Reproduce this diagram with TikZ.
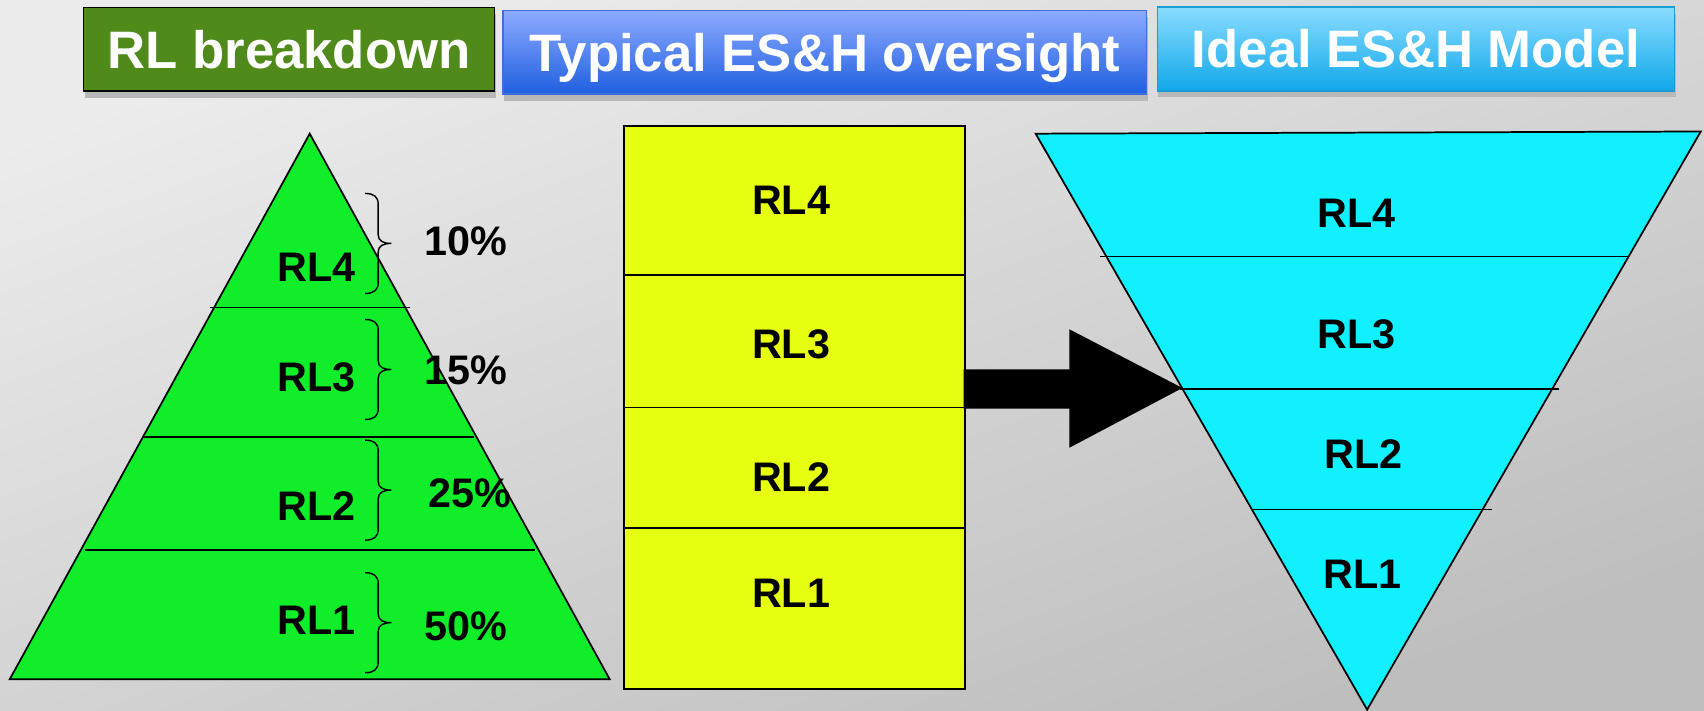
\documentclass[tikz,border=0pt]{standalone}
\usepackage{fontspec}
\setmainfont{Liberation Sans}
\usetikzlibrary{shadows,calc}

\definecolor{bgtop}{HTML}{ECECEC}
\definecolor{bgbot}{HTML}{BEBEBE}
\definecolor{hdrgreen}{HTML}{4F8A1A}
\definecolor{bluetop}{HTML}{8DABFF}
\definecolor{bluebot}{HTML}{1F5FE0}
\definecolor{blueedge}{HTML}{3A70D8}
\definecolor{cyantop}{HTML}{8ADCFF}
\definecolor{cyanbot}{HTML}{10A8EA}
\definecolor{cyanedge}{HTML}{1A9ED2}
\definecolor{pyrgreen}{HTML}{10EE2A}
\definecolor{boxyellow}{HTML}{E6FF10}
\definecolor{funcyan}{HTML}{10F0FF}

% right-pointing curly bracket: x position, top, bottom
\newcommand{\curlybracket}[3]{%
  \pgfmathsetmacro{\cbm}{(#2+#3)/2}%
  \draw[bracket] (#1,#2) .. controls (#1+8,#2) and (#1+12,#2+3) .. (#1+12,#2+10)
    -- (#1+12,\cbm-8) .. controls (#1+12,\cbm-2) and (#1+17,\cbm) .. (#1+24,\cbm)
    .. controls (#1+17,\cbm) and (#1+12,\cbm+2) .. (#1+12,\cbm+8)
    -- (#1+12,#3-10) .. controls (#1+12,#3-3) and (#1+8,#3) .. (#1,#3);}

\begin{document}
\begin{tikzpicture}[x=1pt,y=-1pt,
  hdr/.style={minimum height=77pt, inner sep=0pt, text=white,
    font=\fontsize{48.5}{58}\selectfont\bfseries,
    text height=35pt, text depth=0pt, line width=1.5pt,
    drop shadow={shadow xshift=1pt,shadow yshift=-6pt,fill=black!28,opacity=1}},
  lbl/.style={font=\fontsize{38}{46}\selectfont\bfseries, inner sep=0pt},
  edge/.style={line width=1.6pt},
  band/.style={line width=1.4pt},
  bracket/.style={line width=1.3pt}]

  % backdrop
  \useasboundingbox (0,0) rectangle (1568,654);
  \fill[top color=bgtop, bottom color=bgbot, shading angle=20] (0,0) rectangle (1568,654);

  % column headings
  \node[hdr, draw=black, fill=hdrgreen, minimum width=378pt] (h1) at (266,45.5) {RL breakdown};
  \node[hdr, draw=blueedge, top color=bluetop, bottom color=bluebot, minimum width=592pt] (h2) at (759,48) {Typical ES\&H oversight};
  \node[hdr, draw=cyanedge, top color=cyantop, bottom color=cyanbot, minimum width=476pt] (h3) at (1303,45) {Ideal ES\&H Model};

  % pyramid
  \filldraw[edge, fill=pyrgreen] (285,123) -- (561,625) -- (9,625) -- cycle;
  \draw[band] (193,283) -- (377,283);
  \draw[band] (132,402) -- (436,402);
  \draw[band] (78,506) -- (492,506);

  \node[lbl] (p4) at (291,246) {RL4};
  \node[lbl] (p3) at (291,347) {RL3};
  \node[lbl] (p2) at (291,466) {RL2};
  \node[lbl] (p1) at (291,571) {RL1};

  \curlybracket{336}{178}{270}
  \curlybracket{336}{294}{386}
  \curlybracket{336}{405}{497}
  \curlybracket{336}{527}{619}

  \node[lbl] (q4) at (429,222) {10\%};
  \node[lbl] (q3) at (429,341) {15\%};
  \node[lbl] (q2) at (432,454) {25\%};
  \node[lbl] (q1) at (429,576) {50\%};

  % uniform column
  \node[edge, draw, fill=boxyellow, minimum width=314pt, minimum height=518pt, inner sep=0pt] (yel) at (731,375) {};
  \draw[band] (574,253) -- (888,253);
  \draw[band] (574,375) -- (888,375);
  \draw[band] (574,486) -- (888,486);

  \node[lbl] (y4) at (728,184) {RL4};
  \node[lbl] (y3) at (728,317) {RL3};
  \node[lbl] (y2) at (728,439) {RL2};
  \node[lbl] (y1) at (728,546) {RL1};

  % inverted pyramid
  \filldraw[edge, fill=funcyan] (953,123) -- (1565,121) -- (1258,653) -- cycle;
  \draw[band] (1012,236) -- (1499,236);
  \draw[band] (1086,358) -- (1435,358);
  \draw[band] (1151,469) -- (1373,469);

  \node[lbl] (c4) at (1248,196) {RL4};
  \node[lbl] (c3) at (1248,308) {RL3};
  \node[lbl] (c2) at (1255,418) {RL2};
  \node[lbl] (c1) at (1254,528) {RL1};

  % block arrow between the two models
  \coordinate (tip) at (1088,357);
  \fill ($(yel.east)+(-2,-35)$) -- (984,340) -- (984,303) -- (tip)
        -- (984,412) -- (984,376) -- ($(yel.east)+(-2,1)$) -- cycle;
\end{tikzpicture}
\end{document}
